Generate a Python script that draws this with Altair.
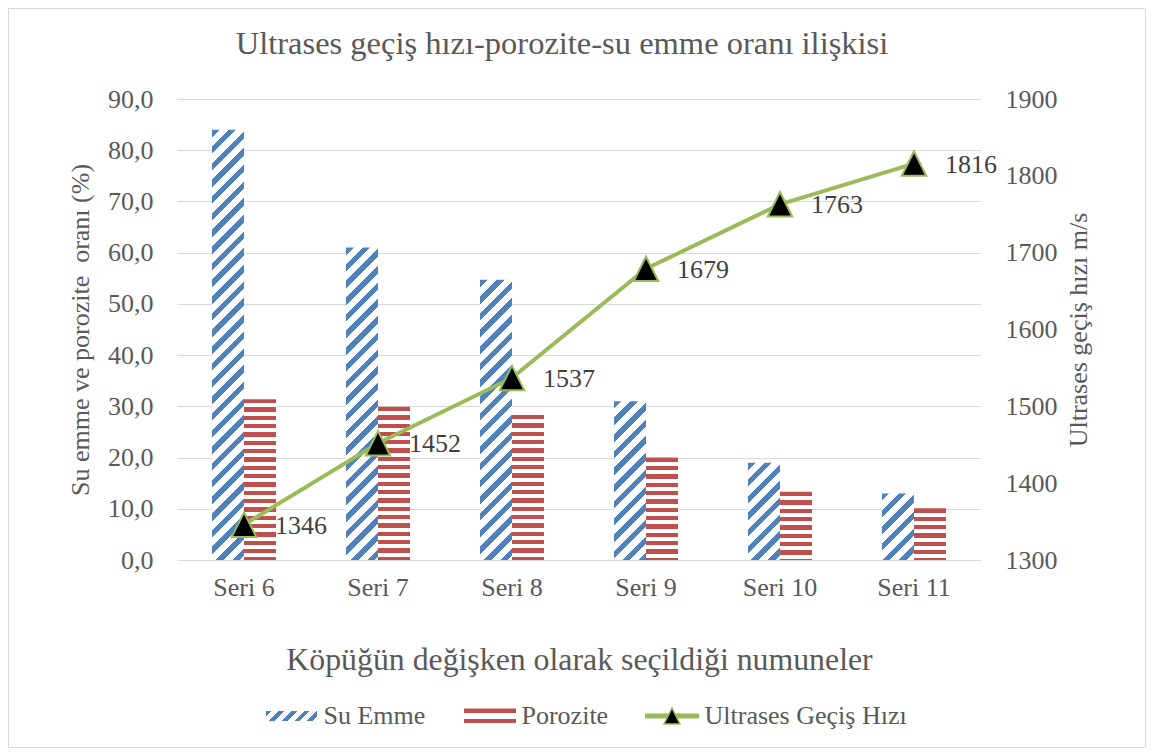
import math
import altair as alt
import pandas as pd

# ---------------- data ----------------
categories = ["Seri 6", "Seri 7", "Seri 8", "Seri 9", "Seri 10", "Seri 11"]
su_emme = [84.0, 61.0, 54.7, 31.0, 19.0, 13.0]
porozite = [31.4, 29.9, 28.3, 20.0, 13.3, 10.1]
ultrases = [1346, 1452, 1537, 1679, 1763, 1816]
series_names = ["Su Emme", "Porozite", "Ultrases Geçiş Hızı"]
left_ticks = [0, 10, 20, 30, 40, 50, 60, 70, 80, 90]
right_ticks = [1300, 1400, 1500, 1600, 1700, 1800, 1900]

title_text = "Ultrases geçiş hızı-porozite-su emme oranı ilişkisi"
x_title = "Köpüğün değişken olarak seçildiği numuneler"
y_left_title = "Su emme ve porozite\u00a0 oranı (%)"
y_right_title = "Ultrases geçiş hızı m/s"

# ---------------- style ----------------
FONT = "Liberation Serif"
BLUE = "#4F81BD"
RED = "#C0504D"
GREEN = "#9BBB59"
GRAY = "#595959"
DARK = "#404040"
GRID = "#D9D9D9"

W, H = 804, 461
PAD_L, PAD_T = 169, 91
TOTAL_W, TOTAL_H = 1138, 740
PAD_R = TOTAL_W - PAD_L - W
PAD_B = TOTAL_H - PAD_T - H
P_IN = 0.5224
P_OUT = P_IN / 2
STEP = W / (len(categories) - P_IN + 2 * P_OUT)
BAR_W = STEP * (1 - P_IN) / 2
Y_MAX = left_ticks[-1]


def stripe_stops(n, color, frac):
    stops = []
    k = 0
    while k / n < 1:
        a = k / n
        b = min((k + frac) / n, 1.0)
        c = min((k + 1) / n, 1.0)
        stops.append({"offset": round(a, 5), "color": color})
        stops.append({"offset": round(b, 5), "color": color})
        if b < 1:
            stops.append({"offset": round(b, 5), "color": "#ffffff"})
            stops.append({"offset": round(c, 5), "color": "#ffffff"})
        k += 1
    return stops


def horizontal_hatch(h_px, color, period, frac):
    n = max(h_px / period, 1e-3)
    return {"gradient": "linear", "x1": 0, "y1": 0, "x2": 0, "y2": 1,
            "stops": stripe_stops(n, color, frac)}


def diagonal_hatch(w_px, h_px, color, period, frac):
    s = (w_px + h_px) / (w_px ** 2 + h_px ** 2)
    n = max((w_px + h_px) / (math.sqrt(2) * period), 1e-3)
    return {"gradient": "linear", "x1": 0, "y1": 0,
            "x2": round(w_px * s, 5), "y2": round(h_px * s, 5),
            "stops": stripe_stops(n, color, frac)}


# ---------------- bars ----------------
rows = []
for c, a, b in zip(categories, su_emme, porozite):
    rows.append({"cat": c, "series": series_names[0], "value": a})
    rows.append({"cat": c, "series": series_names[1], "value": b})
bar_df = pd.DataFrame(rows)

conds = []
for r in rows:
    h_px = r["value"] / Y_MAX * H
    if r["series"] == series_names[0]:
        grad = diagonal_hatch(BAR_W, h_px, BLUE, 11.8, 0.45)
    else:
        grad = horizontal_hatch(h_px, RED, 8.33, 0.52)
    conds.append({"test": f"datum.cat === '{r['cat']}' && datum.series === '{r['series']}'",
                  "value": grad})

x_axis = alt.Axis(title=x_title, labelFont=FONT, labelFontSize=26, labelColor=GRAY,
                  labelAngle=0, labelPadding=14, domain=False, ticks=False, tickSize=0,
                  titleFont=FONT, titleFontSize=31.8, titleFontWeight="normal",
                  titleColor=GRAY, titlePadding=44)
x_enc = alt.X("cat:N", sort=categories, axis=x_axis,
              scale=alt.Scale(paddingInner=P_IN, paddingOuter=P_OUT))

left_axis = alt.Axis(orient="left", values=left_ticks,
                     labelExpr="replace(format(datum.value, '.1f'), '.', ',')",
                     grid=True, gridColor=GRID, gridWidth=1, domain=False, ticks=False,
                     tickSize=0, labelPadding=24, labelFont=FONT, labelFontSize=26,
                     labelColor=GRAY, title=y_left_title, titleFont=FONT,
                     titleFontSize=26, titleFontWeight="normal", titleColor=GRAY,
                     titlePadding=14)

bars = alt.Chart(bar_df).mark_bar(strokeWidth=0).encode(
    x=x_enc,
    xOffset=alt.XOffset("series:N", sort=series_names[:2],
                        scale=alt.Scale(paddingInner=0, paddingOuter=0)),
    y=alt.Y("value:Q", scale=alt.Scale(domain=[0, Y_MAX], nice=False), axis=left_axis),
    fill=alt.FillValue("#ffffff", condition=conds),
)

# ---------------- line ----------------
line_df = pd.DataFrame({"cat": categories, "speed": ultrases})
right_axis = alt.Axis(orient="right", values=right_ticks, format="d", grid=False,
                      domain=False, ticks=False, tickSize=0, labelPadding=24,
                      labelFont=FONT, labelFontSize=26, labelColor=GRAY,
                      title=y_right_title, titleFont=FONT, titleFontSize=26,
                      titleFontWeight="normal", titleColor=GRAY, titleAngle=270,
                      titleBaseline="top", titlePadding=8)
base = alt.Chart(line_df).encode(
    x=x_enc,
    y=alt.Y("speed:Q", scale=alt.Scale(domain=[1300, 1900], nice=False), axis=right_axis),
)
TRI = "M-1,1L1,1L0,-1Z"
line = base.mark_line(color=GREEN, strokeWidth=4)
points = base.mark_point(shape=TRI, filled=True, fill="black", stroke=GREEN,
                         strokeWidth=2, size=600, opacity=1)
labels = base.mark_text(align="left", baseline="middle", dx=31, dy=1, font=FONT,
                        fontSize=26, color=DARK).encode(text="speed:Q")
line_layer = alt.layer(line, points, labels)

# ---------------- border + legend ----------------
one = pd.DataFrame({"k": [0]})
border = alt.Chart(one).mark_rect(filled=False, color=GRID, strokeWidth=1).encode(
    x=alt.value(-PAD_L + 0.5), x2=alt.value(W + PAD_R - 0.5),
    y=alt.value(-PAD_T + 0.5), y2=alt.value(H + PAD_B - 0.5))

LEG_Y = 617
leg_blue = alt.Chart(one).mark_rect(fill=diagonal_hatch(51, 10, BLUE, 9.0, 0.45), strokeWidth=0).encode(
    x=alt.value(89), x2=alt.value(140), y=alt.value(LEG_Y - 5), y2=alt.value(LEG_Y + 5))
leg_red = alt.Chart(one).mark_rect(fill=horizontal_hatch(15, RED, 10.3, 0.45), strokeWidth=0).encode(
    x=alt.value(287), x2=alt.value(339), y=alt.value(LEG_Y - 7.5), y2=alt.value(LEG_Y + 7.5))
leg_line = alt.Chart(one).mark_rule(color=GREEN, strokeWidth=5).encode(
    x=alt.value(468), x2=alt.value(522), y=alt.value(LEG_Y))
leg_tri = alt.Chart(one).mark_point(shape=TRI, filled=True, fill="black", stroke=GREEN,
                                    strokeWidth=1.5, size=256, opacity=1).encode(
    x=alt.value(495), y=alt.value(LEG_Y))


def leg_text(xpos, label):
    return alt.Chart(one).mark_text(align="left", baseline="middle", font=FONT,
                                    fontSize=26, color=GRAY).encode(
        x=alt.value(xpos), y=alt.value(LEG_Y), text=alt.value(label))


leg_t1 = leg_text(146.5, series_names[0])
leg_t2 = leg_text(344.5, series_names[1])
leg_t3 = leg_text(527.5, series_names[2])

chart = alt.layer(
    border, bars, line_layer, leg_blue, leg_red, leg_line, leg_tri, leg_t1, leg_t2, leg_t3
).resolve_scale(y="independent").properties(
    width=W, height=H,
    padding={"left": PAD_L, "top": PAD_T, "right": PAD_R, "bottom": PAD_B},
    autosize=alt.AutoSizeParams(type="none"),
    background="white",
    title=alt.TitleParams(title_text, font=FONT, fontSize=32.5, fontWeight="normal",
                          color=GRAY, anchor="middle", frame="group", offset=-78,
                          dx=-17, baseline="alphabetic"),
).configure_view(stroke=None)

chart.save("out.html", embed_options={"renderer": "svg", "actions": False})
